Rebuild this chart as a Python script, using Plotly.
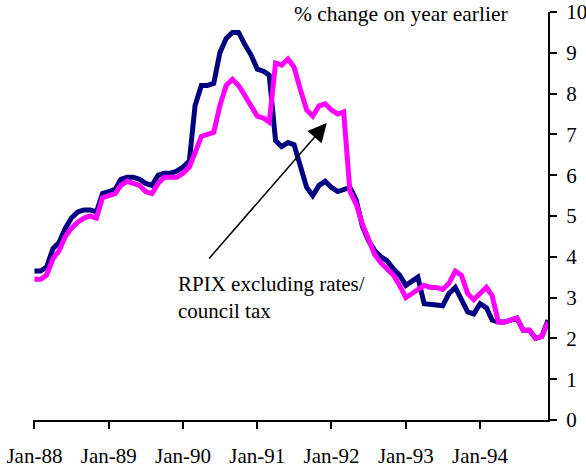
import pandas as pd
import plotly.graph_objects as go

months = pd.date_range("1988-01-01", periods=84, freq="MS")

rpix = [
    3.65, 3.65, 3.75, 4.2, 4.35, 4.7, 4.95, 5.1, 5.15, 5.15, 5.1, 5.55,
    5.6, 5.65, 5.9, 5.95, 5.95, 5.9, 5.8, 5.75, 6.0, 6.05, 6.05, 6.1,
    6.2, 6.35, 7.7, 8.2, 8.2, 8.25, 9.0, 9.35, 9.5, 9.5, 9.2, 8.95,
    8.6, 8.55, 8.45, 6.85, 6.7, 6.8, 6.75, 6.2, 5.7, 5.5, 5.75, 5.85,
    5.7, 5.6, 5.65, 5.7, 5.4, 4.75, 4.4, 4.15, 4.0, 3.9, 3.7, 3.55,
    3.3, 3.4, 3.5, 2.85, 2.85, 2.82, 2.8, 3.1, 3.25, 2.95, 2.65, 2.6,
    2.85, 2.75, 2.45, 2.4, 2.4, 2.45, 2.5, 2.2, 2.2, 2.0, 2.05, 2.45,
]

rpix_ex = [
    3.45, 3.45, 3.55, 3.95, 4.15, 4.5, 4.7, 4.85, 4.95, 5.0, 4.95, 5.45,
    5.5, 5.55, 5.75, 5.85, 5.8, 5.75, 5.6, 5.55, 5.8, 5.95, 5.95, 5.95,
    6.05, 6.2, 6.55, 6.95, 7.0, 7.05, 7.7, 8.2, 8.35, 8.2, 7.95, 7.7,
    7.45, 7.4, 7.3, 8.75, 8.7, 8.85, 8.65, 8.1, 7.6, 7.45, 7.7, 7.75,
    7.6, 7.5, 7.55, 5.6, 5.3, 4.8, 4.4, 4.05, 3.85, 3.7, 3.55, 3.3,
    3.0, 3.1, 3.2, 3.3, 3.25, 3.25, 3.2, 3.35, 3.65, 3.55, 3.1, 2.95,
    3.1, 3.25, 3.05, 2.4, 2.4, 2.45, 2.5, 2.2, 2.2, 2.0, 2.05, 2.4,
]

y_ticks = [0, 1, 2, 3, 4, 5, 6, 7, 8, 9, 10]

FONT = "Liberation Serif, Times New Roman, serif"

fig = go.Figure()
fig.add_trace(go.Scatter(x=months, y=rpix, mode="lines",
                         line=dict(color="#000080", width=5), name="RPIX"))
fig.add_trace(go.Scatter(x=months, y=rpix_ex, mode="lines",
                         line=dict(color="#FF00FF", width=5),
                         name="RPIX excluding rates/council tax"))

fig.update_layout(
    width=586, height=467,
    margin=dict(l=33, r=38, t=12, b=47),
    paper_bgcolor="white", plot_bgcolor="white",
    showlegend=False,
    font=dict(family=FONT, size=21, color="black"),
    xaxis=dict(
        type="date", automargin=False,
        range=["1987-12-25", "1994-12-01"],
        tick0="1988-01-01", dtick="M12", tickformat="%b-%y",
        showgrid=False, zeroline=False,
        showline=True, linecolor="black", linewidth=2,
        ticks="outside", ticklen=7, tickwidth=2, tickcolor="black",
        ticklabelstandoff=9,
    ),
    yaxis=dict(
        side="right", range=[0, 10], automargin=False,
        tickvals=y_ticks,
        showgrid=False, zeroline=False,
        showline=True, linecolor="black", linewidth=2,
        ticks="outside", ticklen=7, tickwidth=2, tickcolor="black",
        ticklabelstandoff=5,
    ),
    annotations=[
        dict(text="% change on year earlier", xref="paper", yref="paper",
             x=0.502, y=0.995, xanchor="left", yanchor="middle",
             showarrow=False, font=dict(size=21.5)),
        dict(text="RPIX excluding rates/<br>council tax", xref="paper", yref="paper",
             x=0.277, y=0.368, xanchor="left", yanchor="top", align="left",
             showarrow=False, font=dict(size=21)),
        dict(text="", xref="paper", yref="paper", x=0.5705, y=0.728,
             ax=-119, ay=137, showarrow=True, arrowhead=2, arrowsize=2.5,
             arrowwidth=1.5, arrowcolor="black", standoff=0),
    ],
)

fig.write_html(
    "out.html",
    config={"displayModeBar": False},
    post_script="document.body.style.margin='0';document.body.style.overflow='hidden';",
)
